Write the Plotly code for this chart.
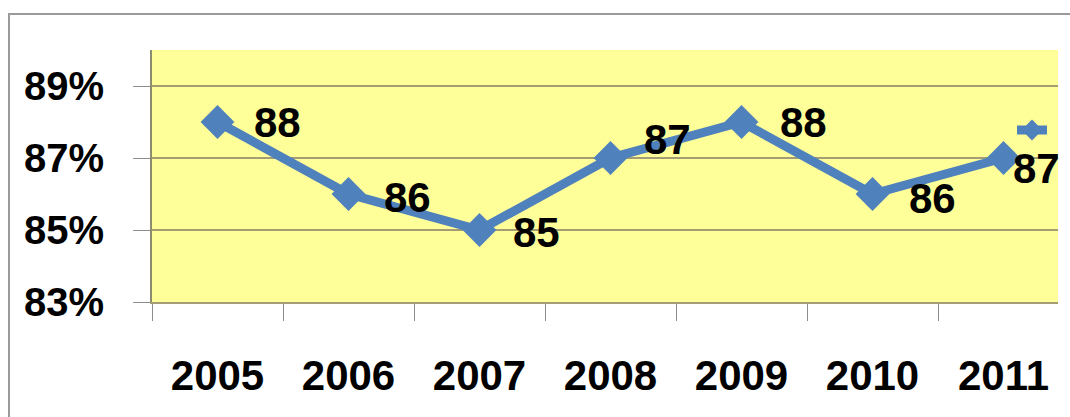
import plotly.graph_objects as go

# Yearly rate, in percent
years = ["2005", "2006", "2007", "2008", "2009", "2010", "2011"]
rates = [88, 86, 85, 87, 88, 86, 87]
y_ticks = [83, 85, 87, 89]
y_tick_text = [f"{v}%" for v in y_ticks]

# pixel nudges (dx, dy) applied to each value label
label_nudge = [(60, 0), (59, -3), (57, -2), (57, 19), (62, 0), (60, -4), (33, -10)]

BLUE = "#4F81BD"
GRID = "#A39C74"
FONT = "Liberation Sans"

fig = go.Figure()
fig.add_trace(go.Scatter(
    x=years, y=rates, mode="lines+markers", name="",
    line=dict(color=BLUE, width=9),
    marker=dict(symbol="diamond", size=26, color=BLUE),
    showlegend=True,
))

for i, (v, (dx, dy)) in enumerate(zip(rates, label_nudge)):
    fig.add_annotation(
        x=i, y=v, xref="x", yref="y", text=f"<b>{v}</b>", showarrow=False,
        xshift=dx, yshift=dy,
        font=dict(family=FONT, size=42, color="#000000"),
    )

# outer chart frame (extends past the right and bottom edges)
fig.add_shape(
    type="rect", xref="paper", yref="paper",
    x0=(9 - 152) / 906, x1=(1080 - 152) / 906,
    y0=(302 - 430) / 252, y1=(302 - 14) / 252,
    line=dict(color="#9A9A9A", width=2), fillcolor="rgba(0,0,0,0)",
    layer="below",
)

fig.update_layout(
    width=1070, height=417,
    margin=dict(l=152, r=12, t=50, b=115),
    paper_bgcolor="#FFFFFF",
    plot_bgcolor="#FFFF99",
    legend=dict(
        x=(1012 - 152) / 906, y=(302 - 130) / 252,
        xanchor="left", yanchor="middle",
        bgcolor="rgba(0,0,0,0)", font=dict(size=12),
    ),
    xaxis=dict(
        type="category", range=[-0.5, 6.416],
        showgrid=False, showline=True, linecolor=GRID, linewidth=2,
        ticks="outside", tickson="boundaries", ticklen=17,
        tickcolor="#8C8C8C", tickwidth=1,
        ticklabelstandoff=36,
        tickfont=dict(family=FONT, size=42, color="#000000", weight="bold"),
    ),
    yaxis=dict(
        range=[83, 90], tickmode="array", tickvals=y_ticks, ticktext=y_tick_text,
        showgrid=True, gridcolor=GRID, gridwidth=2,
        showline=True, linecolor="#8C8C70", linewidth=2,
        ticks="outside", ticklen=17, tickcolor="#8C8C8C", tickwidth=1,
        ticklabelstandoff=21, zeroline=False,
        tickfont=dict(family=FONT, size=40, color="#000000", weight="bold"),
    ),
)

fig.write_html("out.html")
